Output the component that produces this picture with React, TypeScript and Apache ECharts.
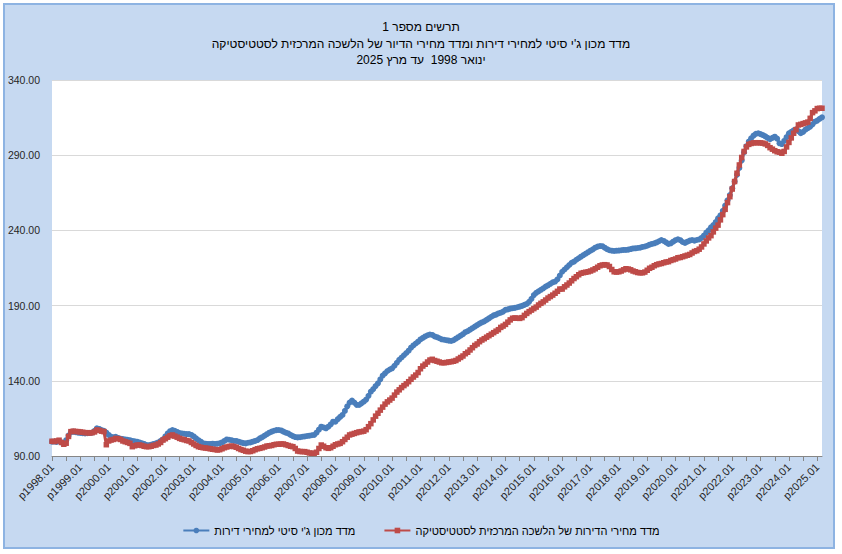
import React, { useEffect, useRef } from "react";
import * as echarts from "echarts";

const TITLE_LINES = [
  "תרשים מספר 1",
  "מדד מכון ג'י סיטי למחירי דירות ומדד מחירי הדיור של הלשכה המרכזית לסטטיסטיקה",
  "ינואר 1998  עד מרץ 2025",
];

const SERIES_NAMES = [
  "מדד מכון ג'י סיטי למחירי דירות",
  "מדד מחירי הדירות של הלשכה המרכזית לסטטיסטיקה",
];

const YEARS = [
  1998, 1999, 2000, 2001, 2002, 2003, 2004, 2005, 2006, 2007, 2008, 2009, 2010,
  2011, 2012, 2013, 2014, 2015, 2016, 2017, 2018, 2019, 2020, 2021, 2022, 2023,
  2024, 2025,
];
const MONTHS = ["01", "02", "03", "04", "05", "06", "07", "08", "09", "10", "11", "12"];
const LAST_MONTHS_2025 = 3;

const Y_MIN = 90;
const Y_MAX = 340;
const Y_STEP = 50;

// G City index, monthly Jan 1998 .. Mar 2025
const gcityIndex = [
  99.5, 99.6, 99.4, 99.8, 99.0, 98.4, 100.5, 103.5, 105.8, 106.2, 105.8, 105.5,
  105.3, 105.2, 105.0, 105.2, 105.3, 105.6, 106.8, 108.4, 108.0, 107.2, 106.8, 105.5,
  104.0, 102.8, 102.5, 102.8, 102.0, 101.5, 101.2, 101.0, 100.8, 100.5, 100.0, 99.8,
  99.5, 99.0, 98.5, 98.0, 97.3, 97.2, 97.5, 98.0, 98.4, 99.0, 100.0, 101.0,
  103.0, 105.0, 106.5, 107.3, 106.8, 106.0, 105.3, 105.0, 104.8, 104.6, 104.6, 104.0,
  103.0, 101.7, 100.5, 99.5, 98.4, 98.2, 98.0, 98.0, 98.2, 98.0, 98.2, 98.4,
  99.0, 100.0, 101.0, 100.8, 100.5, 100.0, 100.0, 99.5, 99.0, 98.6, 98.4, 98.8,
  99.0, 99.5, 100.0, 100.6, 101.7, 102.5, 103.5, 104.5, 105.5, 106.2, 106.8, 107.2,
  107.3, 107.0, 106.2, 105.5, 105.0, 104.0, 103.2, 102.6, 102.4, 102.5, 102.8, 103.0,
  103.3, 103.5, 103.8, 104.0, 105.5, 107.5, 109.5, 109.0, 108.4, 109.5, 111.0, 112.8,
  112.8, 114.5, 116.0, 117.3, 120.0, 123.0, 125.5, 126.8, 125.5, 124.0, 123.9, 125.0,
  126.1, 127.5, 130.0, 132.8, 134.5, 136.5, 138.3, 141.0, 143.5, 145.0, 146.5, 147.5,
  148.3, 150.0, 152.0, 154.0, 155.5, 157.0, 158.5, 160.0, 162.0, 163.5, 164.8, 166.0,
  167.5, 168.5, 169.5, 170.3, 170.8, 170.5, 169.5, 169.0, 168.3, 167.6, 167.3, 167.0,
  166.7, 166.5, 167.0, 168.0, 169.0, 170.0, 171.0, 172.3, 173.0, 174.0, 175.0, 176.0,
  177.0, 178.0, 178.8, 179.5, 180.5, 181.5, 182.6, 183.5, 184.0, 184.8, 185.3, 186.0,
  187.2, 187.5, 188.0, 188.3, 188.5, 188.9, 189.3, 189.8, 190.5, 191.1, 192.5, 194.5,
  197.0, 198.5, 199.5, 200.5, 201.5, 202.6, 203.5, 204.5, 205.5, 206.0, 207.5, 210.0,
  212.5, 214.0, 215.5, 217.0, 218.5, 219.2, 220.5, 221.5, 222.5, 223.6, 224.5, 225.5,
  226.5, 227.4, 228.5, 229.2, 229.6, 229.5, 228.5, 227.5, 226.8, 226.5, 226.3, 226.5,
  226.6, 226.8, 227.0, 227.0, 227.2, 227.6, 228.0, 228.1, 228.3, 228.5, 229.0, 229.3,
  229.8, 230.5, 231.0, 231.4, 232.0, 232.8, 233.6, 233.0, 232.0, 231.0, 231.4, 232.5,
  233.5, 234.1, 233.5, 232.3, 231.7, 232.5, 233.2, 233.6, 233.2, 233.6, 234.0, 235.0,
  236.5, 238.5, 240.0, 242.0, 243.5, 245.5, 248.0, 250.0, 253.0, 256.5, 260.0, 263.5,
  268.0, 272.5, 277.0, 281.5, 286.5, 292.0, 296.0, 299.0, 301.2, 303.0, 304.2, 304.6,
  304.0, 303.4, 302.5, 301.5, 300.6, 301.5, 302.3, 301.0, 297.9, 297.4, 299.5, 302.0,
  304.6, 305.5, 306.5, 307.2, 306.0, 304.6, 305.5, 307.0, 308.0, 309.0, 310.5, 312.3,
  313.0, 314.2, 315.2,
];

// CBS dwelling prices index, monthly Jan 1998 .. Mar 2025
const cbsIndex = [
  99.8, 99.6, 100.0, 100.5, 99.0, 97.8, 98.5, 103.0, 106.2, 106.5, 106.3, 106.2,
  106.0, 105.8, 105.5, 105.5, 105.3, 105.5, 106.0, 107.3, 107.0, 106.5, 106.2, 97.5,
  100.0, 100.6, 101.0, 101.7, 101.5, 101.0, 100.0, 99.5, 99.0, 98.4, 96.2, 96.8,
  97.3, 97.3, 97.0, 96.5, 96.2, 96.2, 96.5, 97.0, 97.3, 98.0, 99.0, 100.6,
  101.5, 102.5, 103.5, 104.0, 103.2, 102.5, 101.7, 101.2, 100.8, 100.3, 100.0, 99.0,
  98.0, 97.0, 96.2, 95.8, 95.5, 95.3, 95.1, 94.8, 94.5, 94.3, 94.0, 94.2,
  94.8, 95.5, 96.0, 96.4, 96.6, 96.3, 95.8, 95.0, 94.3, 93.8, 93.2, 92.9,
  93.0, 93.5, 94.2, 94.8, 95.1, 95.5, 96.0, 96.6, 96.8, 97.0, 97.5, 97.8,
  97.8, 98.0, 98.0, 97.5, 97.0, 96.5, 96.2, 95.0, 93.3, 93.0, 92.9, 92.9,
  92.5, 92.0, 91.8, 91.8, 92.5, 95.0, 97.3, 96.5, 95.5, 95.1, 95.5, 96.5,
  97.5, 98.0, 98.4, 99.5, 101.0, 102.5, 104.0, 104.5, 105.0, 105.5, 106.0, 106.2,
  106.5, 107.5, 109.5, 111.5, 114.0, 116.5, 118.4, 120.5, 122.5, 124.5, 126.0, 127.2,
  128.5, 130.5, 132.5, 134.0, 135.5, 136.8, 138.0, 139.4, 141.0, 142.5, 143.8, 145.5,
  148.0, 149.8, 151.0, 152.5, 153.8, 154.3, 153.5, 153.0, 152.5, 152.0, 152.0, 152.2,
  152.5, 152.7, 153.0, 153.5, 154.5, 155.5, 156.5, 158.0, 159.0, 160.5, 162.0, 163.5,
  164.5, 166.0, 167.1, 168.0, 169.0, 170.0, 171.0, 172.0, 173.0, 174.0, 175.5, 176.4,
  177.5, 179.0, 180.5, 181.6, 181.8, 181.6, 181.5, 182.0, 183.5, 184.8, 186.0, 187.0,
  188.0, 189.0, 190.4, 191.5, 192.5, 193.7, 195.0, 196.0, 197.0, 198.2, 199.5, 201.0,
  201.0, 202.5, 203.7, 205.0, 206.5, 208.0, 209.2, 210.5, 211.5, 211.9, 212.2, 212.5,
  213.0, 213.7, 214.5, 215.5, 216.5, 217.0, 217.2, 217.0, 216.0, 214.0, 212.5, 212.3,
  212.5, 213.0, 213.8, 214.5, 214.3, 213.8, 213.0, 212.5, 212.0, 211.8, 211.8, 212.3,
  213.5, 214.8, 215.5, 216.5, 217.2, 217.7, 218.0, 218.5, 219.0, 219.2, 220.0, 220.5,
  221.0, 221.8, 222.0, 222.5, 223.0, 223.5, 224.0, 225.0, 226.0, 226.5, 227.5, 229.0,
  231.0, 233.0, 235.0, 236.5, 239.0, 241.5, 243.5, 247.0, 250.5, 254.0, 258.5, 262.4,
  267.5, 272.5, 278.0, 283.5, 288.5, 292.5, 295.5, 297.2, 297.8, 298.2, 298.3, 298.3,
  298.2, 298.0, 297.5, 296.5, 295.0, 294.0, 293.0, 292.3, 292.0, 291.3, 292.5, 295.5,
  298.5, 301.5, 304.6, 307.0, 310.1, 310.5, 311.0, 311.5, 312.0, 314.5, 318.3, 319.5,
  321.0, 321.2, 321.2,
];

const categories: string[] = YEARS.flatMap((y) =>
  (y === 2025 ? MONTHS.slice(0, LAST_MONTHS_2025) : MONTHS).map((m) => `p${y}.${m}`)
);

const FONT = "'Liberation Sans', Arial, 'DejaVu Sans', sans-serif";

export default function App() {
  const ref = useRef<HTMLDivElement>(null);

  useEffect(() => {
    if (!ref.current) return;
    const chart = echarts.init(ref.current, undefined, { renderer: "svg" });
    chart.setOption({
      animation: false,
      backgroundColor: "transparent",
      textStyle: { fontFamily: FONT },
      title: {
        text: TITLE_LINES.join("\n"),
        left: "center",
        top: 14,
        textStyle: {
          fontFamily: FONT,
          fontSize: 12,
          fontWeight: "normal",
          color: "#000",
          lineHeight: 16.5,
        },
      },
      legend: {
        data: SERIES_NAMES,
        left: "center",
        top: 520,
        itemWidth: 26,
        itemHeight: 7,
        itemGap: 28,
        textStyle: { fontFamily: FONT, fontSize: 11, color: "#000" },
      },
      grid: {
        left: 52,
        right: 20,
        top: 80,
        bottom: 98,
        show: true,
        backgroundColor: "#ffffff",
        borderWidth: 0,
      },
      xAxis: {
        type: "category",
        data: categories,
        boundaryGap: false,
        axisLine: { lineStyle: { color: "#868686", width: 1 } },
        axisTick: {
          interval: 5,
          length: 5,
          lineStyle: { color: "#868686" },
        },
        axisLabel: {
          interval: 11,
          rotate: 45,
          margin: 9,
          fontSize: 11,
          color: "#262626",
          fontFamily: FONT,
        },
        splitLine: { show: false },
      },
      yAxis: {
        type: "value",
        min: Y_MIN,
        max: Y_MAX,
        interval: Y_STEP,
        axisLine: { show: false },
        axisTick: { show: false },
        axisLabel: {
          margin: 12,
          fontSize: 10.5,
          color: "#262626",
          fontFamily: FONT,
          formatter: (v: number) => v.toFixed(2),
        },
        splitLine: { lineStyle: { color: "#d9d9d9", width: 1 } },
      },
      series: [
        {
          name: SERIES_NAMES[0],
          type: "line",
          data: gcityIndex,
          symbol: "circle",
          symbolSize: 6,
          showAllSymbol: true,
          lineStyle: { color: "#4a7ebb", width: 3 },
          itemStyle: { color: "#4a7ebb" },
          z: 2,
        },
        {
          name: SERIES_NAMES[1],
          type: "line",
          data: cbsIndex,
          symbol: "rect",
          symbolSize: 5.5,
          showAllSymbol: true,
          lineStyle: { color: "#be4b48", width: 3 },
          itemStyle: { color: "#be4b48" },
          z: 3,
        },
      ],
    });
    return () => chart.dispose();
  }, []);

  return (
    <div
      style={{
        position: "fixed",
        left: 0,
        top: 0,
        width: 842,
        height: 554,
        background: "#ffffff",
      }}
    >
      <div
        style={{
          position: "absolute",
          left: 3,
          top: 3,
          width: 832,
          height: 546,
          boxSizing: "border-box",
          border: "2px solid #8db3e2",
          background: "#c6d9f1",
        }}
      />
      <div
        ref={ref}
        style={{ position: "absolute", left: 0, top: 0, width: 842, height: 554 }}
      />
    </div>
  );
}
